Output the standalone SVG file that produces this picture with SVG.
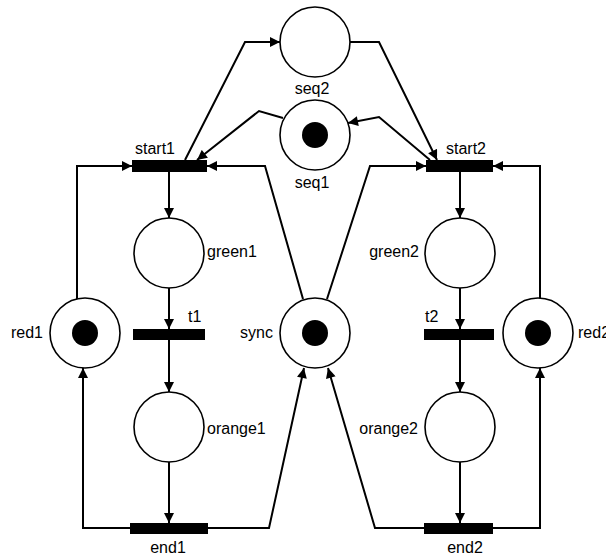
<svg xmlns="http://www.w3.org/2000/svg" width="606" height="557" viewBox="0 0 606 557">
<style>
.place{fill:#fff;stroke:#000;stroke-width:1.6}
.token{fill:#000}
.trans{fill:#000}
.arc{fill:none;stroke:#000;stroke-width:2;stroke-linejoin:miter}
text{font-family:"Liberation Sans",Arial,sans-serif;font-size:16px;fill:#000}
</style>
<defs>
<marker id="ah" viewBox="0 0 10 10" refX="10" refY="5" markerWidth="11" markerHeight="10" markerUnits="userSpaceOnUse" orient="auto">
<path d="M0,0 L10,5 L0,10 z" fill="#000"/>
</marker>
</defs>
<rect width="606" height="557" fill="#fff"/>
<g id="connectors">
<path class="arc" marker-end="url(#ah)" d="M185,160 L245,42 L280,42"/>
<path class="arc" marker-end="url(#ah)" d="M350,42 L379,42 L437,160"/>
<path class="arc" marker-end="url(#ah)" d="M283,118 L259,111 L197,160"/>
<path class="arc" marker-end="url(#ah)" d="M430,160 L379,117 L348,123"/>
<path class="arc" marker-end="url(#ah)" d="M77,299 L77,166 L132,166"/>
<path class="arc" marker-end="url(#ah)" d="M303,299 L265,166 L207,166"/>
<path class="arc" marker-end="url(#ah)" d="M327,299 L370,166 L426,166"/>
<path class="arc" marker-end="url(#ah)" d="M540,299 L540,166 L493,166"/>
<path class="arc" marker-end="url(#ah)" d="M169,172 L169,218"/>
<path class="arc" marker-end="url(#ah)" d="M169,288 L169,329"/>
<path class="arc" marker-end="url(#ah)" d="M169,340 L169,392"/>
<path class="arc" marker-end="url(#ah)" d="M169,462 L169,523"/>
<path class="arc" marker-end="url(#ah)" d="M460,172 L460,218"/>
<path class="arc" marker-end="url(#ah)" d="M460,288 L460,329"/>
<path class="arc" marker-end="url(#ah)" d="M460,340 L460,392"/>
<path class="arc" marker-end="url(#ah)" d="M460,462 L460,523"/>
<path class="arc" marker-end="url(#ah)" d="M130,528 L83,528 L83,368"/>
<path class="arc" marker-end="url(#ah)" d="M208,528 L269,528 L304,368"/>
<path class="arc" marker-end="url(#ah)" d="M424,528 L375,528 L328,368"/>
<path class="arc" marker-end="url(#ah)" d="M493,528 L540,528 L540,368"/>
</g>
<g id="seq2"><circle class="place" cx="315" cy="42" r="35"/><text x="312" y="94" text-anchor="middle">seq2</text></g>
<g id="seq1"><circle class="place" cx="315" cy="135" r="35"/><circle class="token" cx="315" cy="135" r="13"/><text x="312" y="188" text-anchor="middle">seq1</text></g>
<g id="start1"><rect class="trans" x="132" y="160" width="75" height="12"/><text x="155" y="154" text-anchor="middle">start1</text></g>
<g id="start2"><rect class="trans" x="426" y="160" width="67" height="12"/><text x="466" y="154" text-anchor="middle">start2</text></g>
<g id="green1"><circle class="place" cx="169" cy="253" r="35"/><text x="207" y="257">green1</text></g>
<g id="green2"><circle class="place" cx="460" cy="253" r="35"/><text x="419" y="257" text-anchor="end">green2</text></g>
<g id="t1"><rect class="trans" x="133" y="329" width="72" height="11"/><text x="188" y="322">t1</text></g>
<g id="t2"><rect class="trans" x="424" y="329" width="70" height="11"/><text x="425" y="322">t2</text></g>
<g id="red1"><circle class="place" cx="85" cy="333" r="35"/><circle class="token" cx="85" cy="333" r="13"/><text x="43" y="338" text-anchor="end">red1</text></g>
<g id="sync"><circle class="place" cx="315" cy="333" r="35"/><circle class="token" cx="315" cy="333" r="13"/><text x="273" y="338" text-anchor="end">sync</text></g>
<g id="red2"><circle class="place" cx="538" cy="333" r="35"/><circle class="token" cx="538" cy="333" r="13"/><text x="578" y="338">red2</text></g>
<g id="orange1"><circle class="place" cx="169" cy="427" r="35"/><text x="207" y="434">orange1</text></g>
<g id="orange2"><circle class="place" cx="460" cy="427" r="35"/><text x="418" y="434" text-anchor="end">orange2</text></g>
<g id="end1"><rect class="trans" x="130" y="523" width="78" height="11"/><text x="168" y="553" text-anchor="middle">end1</text></g>
<g id="end2"><rect class="trans" x="424" y="523" width="69" height="11"/><text x="465" y="553" text-anchor="middle">end2</text></g>
</svg>
